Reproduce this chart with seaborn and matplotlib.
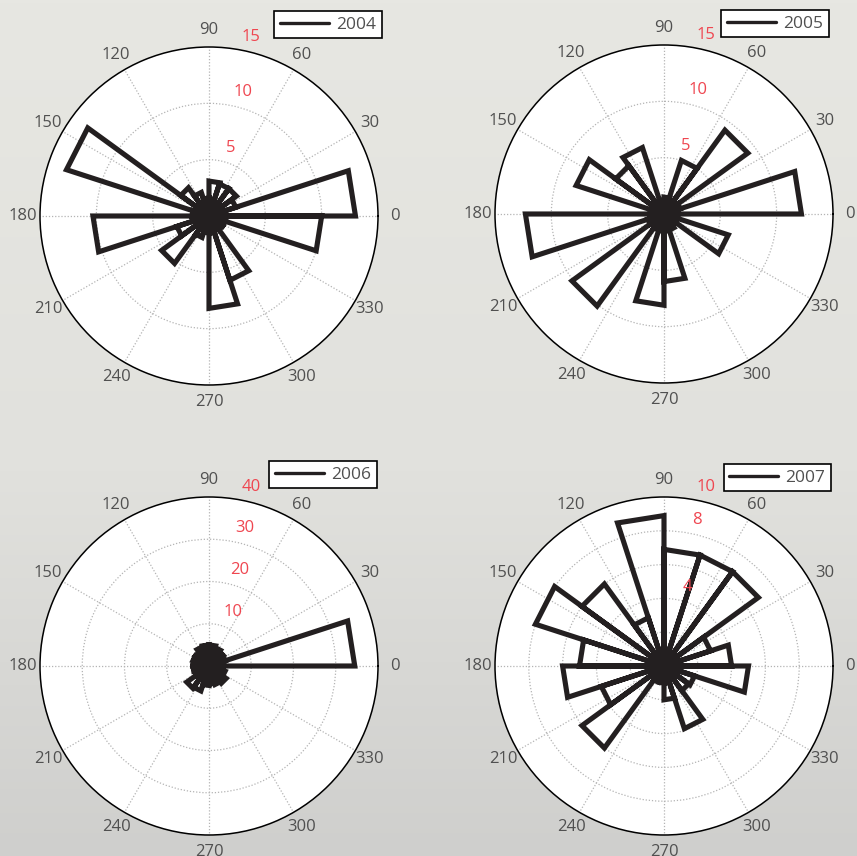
import numpy as np
import pandas as pd
import matplotlib
matplotlib.use("Agg")
import matplotlib.pyplot as plt
import seaborn as sns
from matplotlib.lines import Line2D
from matplotlib.colors import LinearSegmentedColormap

# ---------------- data ----------------
years = ["2004", "2005", "2006", "2007"]
n_bins = 20  # 18-degree bins starting at 0 deg
counts_2004 = [13.0, 2.5, 3.0, 3.0, 3.1, 1.6, 2.2, 3.1, 13.3, 1.5,
               10.3, 3.0, 5.2, 2.0, 1.5, 8.2, 6.0, 1.5, 1.5, 10.0]
counts_2005 = [12.2, 1.5, 9.2, 5.0, 1.5, 1.0, 6.2, 5.3, 8.2, 1.0,
               12.3, 1.5, 10.1, 1.5, 8.1, 6.0, 1.5, 1.0, 6.0, 1.0]
counts_2006 = [34.5, 4.0, 4.2, 4.6, 5.0, 5.0, 4.8, 4.0, 4.0, 3.8,
               3.8, 3.6, 6.5, 6.2, 4.6, 4.3, 4.6, 5.0, 4.0, 3.4]
counts_2007 = [4.0, 2.9, 6.9, 6.9, 6.9, 8.9, 3.0, 6.0, 8.0, 5.0,
               6.0, 3.9, 6.0, 1.0, 1.0, 2.0, 3.9, 1.8, 1.9, 5.0]
all_counts = [counts_2004, counts_2005, counts_2006, counts_2007]

r_max = [15, 15, 40, 10]
ring_ticks = [[5, 10], [5, 10], [10, 20, 30], [2, 4, 6, 8]]
ring_labels = [[5, 10, 15], [5, 10, 15], [10, 20, 30, 40], [4, 8, 10]]
angle_ticks = list(range(0, 360, 30))

# ---------------- style ----------------
sns.set_style("white")
plt.rcParams["font.family"] = ["Open Sans", "DejaVu Sans"]

W, H = 857, 856
fig = plt.figure(figsize=(W / 100, H / 100), dpi=100)

# background gradient
bg = fig.add_axes([0, 0, 1, 1], zorder=-10)
cmap = LinearSegmentedColormap.from_list(
    "bg", [(0.0, "#e7e7e2"), (0.55, "#e1e1dd"), (1.0, "#cfcfcd")])
grad = np.linspace(0, 1, 256).reshape(-1, 1)
bg.imshow(grad, aspect="auto", cmap=cmap, extent=[0, 1, 0, 1], origin="upper")
bg.set_axis_off()

# axes geometry in pixels: (center x, center y, radius)
centers = [(209, 216), (664, 214), (209, 666), (664, 666)]
R = 169
legend_anchor = [(382, 11), (829, 10), (377, 461), (831, 464)]

line_col = "#231f20"
red = "#ef4650"
gray_txt = "#505050"

edges = np.deg2rad(np.arange(0, 361, 360 / n_bins))

for k, year in enumerate(years):
    cx, cy = centers[k]
    ax = fig.add_axes([(cx - R) / W, 1 - (cy + R) / H, 2 * R / W, 2 * R / H],
                      projection="polar")
    ax.set_facecolor("white")
    rm = r_max[k]

    # build rose outline from counts
    th, rr, order = [], [], []
    i = 0
    for b, c in enumerate(all_counts[k]):
        for t, r in [(edges[b], 0.0), (edges[b], c), (edges[b + 1], c), (edges[b + 1], 0.0)]:
            th.append(t); rr.append(r); order.append(i); i += 1
    df = pd.DataFrame({"theta": th, "r": rr, "order": order})
    sns.lineplot(data=df, x="theta", y="r", sort=False, estimator=None,
                 ax=ax, color=line_col, linewidth=3.7,
                 solid_joinstyle="miter", zorder=3)

    ax.set_ylim(0, rm)
    ax.set_yticks(ring_ticks[k])
    ax.set_yticklabels([])
    ax.set_xticks(np.deg2rad(angle_ticks))
    ax.set_xticklabels([])
    ax.set_xlabel("")
    ax.set_ylabel("")
    ax.grid(True, color="#b4b4b4", linestyle=(0, (1, 1.5)), linewidth=0.9)
    ax.spines["polar"].set_color("black")
    ax.spines["polar"].set_linewidth(1.1)

    for a in angle_ticks:
        ax.text(np.deg2rad(a), 1.1 * rm, str(a), ha="center", va="center",
                fontsize=12, color=gray_txt, clip_on=False)
    for v in ring_labels[k]:
        ax.annotate(str(v), xy=(np.deg2rad(82), v), xytext=(9, 12),
                    textcoords="offset pixels", ha="left", va="center",
                    fontsize=12, color=red, annotation_clip=False, zorder=4)

    lx, ly = legend_anchor[k]
    leg = fig.legend(handles=[Line2D([], [], color=line_col, lw=2.4)],
                     labels=[year], loc="upper right",
                     bbox_to_anchor=(lx / W, 1 - ly / H),
                     bbox_transform=fig.transFigure, frameon=True,
                     fancybox=False, edgecolor="black", framealpha=1,
                     borderaxespad=0, fontsize=12.5, handlelength=2.8,
                     handletextpad=0.45, borderpad=0.32)
    leg.get_frame().set_linewidth(1.2)
    for t in leg.get_texts():
        t.set_color(gray_txt)

fig.savefig("out.png", dpi=100)
